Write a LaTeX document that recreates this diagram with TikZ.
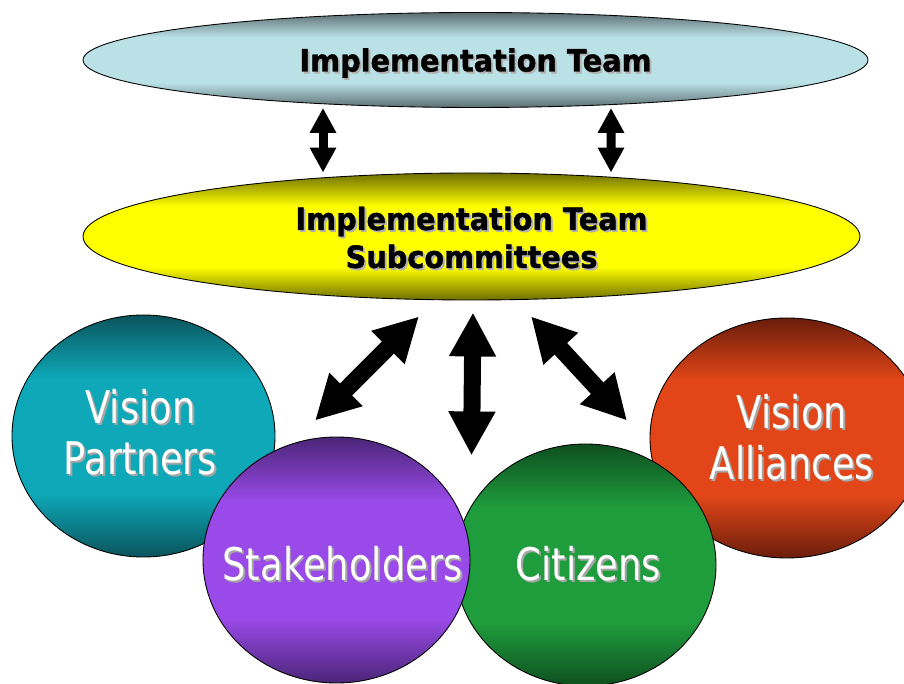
\documentclass[tikz,border=0pt]{standalone}
\usepackage{fontspec}
\usepackage{tikz}
\usepackage{xcolor}
\usetikzlibrary{shapes.geometric, arrows.meta, calc}
\newfontfamily\bubblefont{DejaVu Sans}[FakeStretch=0.82]
\newfontfamily\teamfont{DejaVu Sans}[FakeStretch=0.94, BoldFeatures={FakeBold=1.2}]
\definecolor{teamdark}{HTML}{5B6E72}
\definecolor{teamlight}{HTML}{BAE1E5}
\definecolor{subdark}{HTML}{6E6E00}
\definecolor{sublight}{HTML}{FFFF00}
\definecolor{partdark}{HTML}{0A545C}
\definecolor{partlight}{HTML}{0EA8B8}
\definecolor{stakedark}{HTML}{4B2577}
\definecolor{stakelight}{HTML}{9A4AE8}
\definecolor{citidark}{HTML}{0E4F1F}
\definecolor{citilight}{HTML}{1F9C3C}
\definecolor{alliedark}{HTML}{6A1D0B}
\definecolor{allielight}{HTML}{E24618}
\newcommand{\bandshading}[3]{%
  \pgfdeclareverticalshading{#1}{100bp}{color(0bp)=(#2); color(25bp)=(#2); color(38bp)=(#3); color(62bp)=(#3); color(75bp)=(#2); color(100bp)=(#2)}}
\bandshading{teamband}{teamdark}{teamlight}
\bandshading{subband}{subdark}{sublight}
\bandshading{partband}{partdark}{partlight}
\bandshading{stakeband}{stakedark}{stakelight}
\bandshading{citiband}{citidark}{citilight}
\bandshading{allieband}{alliedark}{allielight}
\newcommand{\shadowtext}[2]{\leavevmode\rlap{\kern1.1pt\raisebox{-1.1pt}{\textcolor{#2}{#1}}}#1}

\begin{document}
\begin{tikzpicture}[
  bubble/.style={ellipse, draw=black, line width=0.5pt, inner sep=0pt, shade},
  bubbletext/.style={text=white, align=center, font=\bubblefont\fontsize{25.6}{29}\selectfont},
  teamtext/.style={align=center, font=\teamfont\bfseries\fontsize{17.4}{21.6}\selectfont},
  bigarrow/.style={line width=0.34cm, {Triangle[length=0.88cm,width=0.88cm]}-{Triangle[length=0.88cm,width=0.88cm]}},
  smallarrow/.style={line width=0.18cm, {Triangle[length=0.5cm,width=0.5cm]}-{Triangle[length=0.5cm,width=0.5cm]}}
]
\useasboundingbox (0,0) rectangle (18.08,13.66);
% teams
\node[bubble, shading=teamband, minimum width=15.7cm, minimum height=1.9cm] (team) at (9.51,12.46) {};
\node[teamtext] (teamtext) at ([yshift=-0.08cm]team.center) {\shadowtext{Implementation Team}{gray!60}};
\node[bubble, shading=subband, minimum width=15.54cm, minimum height=2.54cm] (sub) at (9.43,8.93) {};
\node[teamtext] (subtext) at ([yshift=-0.04cm]sub.center) {\shadowtext{Implementation Team}{gray!60}\\\shadowtext{Subcommittees}{gray!60}};
% groups
\node[bubble, shading=partband, minimum width=5.26cm, minimum height=4.84cm] (partners) at (2.87,4.94) {};
\node[bubbletext] (partnerstext) at ([xshift=-0.06cm,yshift=0.06cm]partners.center) {\shadowtext{Vision}{gray!70}\\\shadowtext{Partners}{gray!70}};
\node[bubble, shading=allieband, minimum width=5.48cm, minimum height=4.8cm] (alliances) at (15.74,4.9) {};
\node[bubbletext] (alliancestext) at ([xshift=0.1cm]alliances.center) {\shadowtext{Vision}{gray!70}\\\shadowtext{Alliances}{gray!70}};
\node[bubble, shading=citiband, minimum width=5.22cm, minimum height=4.84cm] (citizens) at (11.71,2.36) {};
\node[bubbletext] (citizenstext) at ([xshift=0.06cm]citizens.center) {\shadowtext{Citizens}{gray!70}};
\node[bubble, shading=stakeband, minimum width=5.34cm, minimum height=4.92cm] (stake) at (6.73,2.46) {};
\node[bubbletext] (staketext) at ([xshift=0.12cm,yshift=-0.1cm]stake.center) {\shadowtext{Stakeholders}{gray!70}};
% arrows
\draw[smallarrow] ([xshift=-3.05cm]team.south) -- ([xshift=-2.97cm]sub.north);
\draw[smallarrow] ([xshift=2.71cm]team.south) -- ([xshift=2.79cm]sub.north);
\draw[bigarrow] ([xshift=-1.05cm,yshift=-0.32cm]sub.south) -- ([xshift=-0.43cm,yshift=0.32cm]stake.north);
\draw[bigarrow] ([xshift=0.03cm,yshift=-0.24cm]sub.south) -- ([yshift=-3.1cm]sub.south);
\draw[bigarrow] ([xshift=1.19cm,yshift=-0.32cm]sub.south) -- ([xshift=0.83cm,yshift=0.46cm]citizens.north);
\end{tikzpicture}
\end{document}
